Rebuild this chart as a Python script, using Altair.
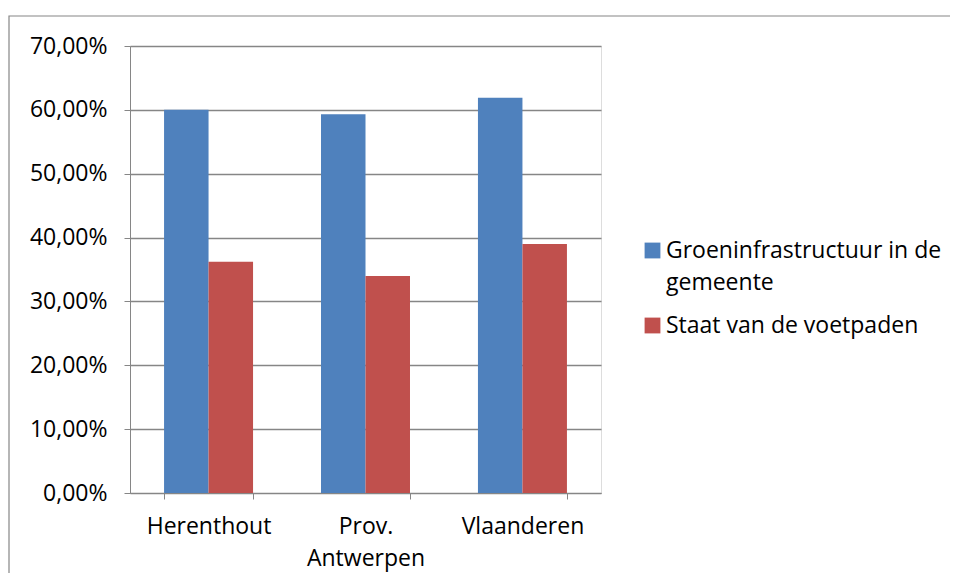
import altair as alt
import pandas as pd

categories = ["Herenthout", "Prov. Antwerpen", "Vlaanderen"]
series = ["Groeninfrastructuur in de gemeente", "Staat van de voetpaden"]
groen = [0.600, 0.593, 0.619]
voetpaden = [0.362, 0.340, 0.390]
y_ticks = [0, 0.1, 0.2, 0.3, 0.4, 0.5, 0.6, 0.7]
colors = ["#4F81BD", "#C0504D"]

rows = []
for c, g, v in zip(categories, groen, voetpaden):
    rows.append({"cat": c, "series": series[0], "value": g})
    rows.append({"cat": c, "series": series[1], "value": v})
df = pd.DataFrame(rows)

FONT = "Open Sans"
FS = 23

bars = alt.Chart(df).mark_bar().encode(
    x=alt.X("cat:N", sort=categories,
            scale=alt.Scale(paddingInner=0.433, paddingOuter=0.217),
            axis=alt.Axis(title=None, labelAngle=0, tickBand="extent",
                          labelExpr="datum.label == 'Prov. Antwerpen' ? ['Prov.', 'Antwerpen'] : datum.label",
                          labelLineHeight=32, labelPadding=16, tickSize=6,
                          domainColor="#868686", tickColor="#868686",
                          labelFont=FONT, labelFontSize=FS, labelColor="#000000")),
    xOffset=alt.XOffset("series:N", sort=series),
    y=alt.Y("value:Q", scale=alt.Scale(domain=[0, 0.7]),
            axis=alt.Axis(title=None, values=y_ticks, grid=True,
                          labelExpr="replace(format(datum.value, '.2%'), '.', ',')",
                          gridColor="#868686", gridWidth=1.3, domainColor="#868686",
                          tickColor="#868686", tickSize=6, labelPadding=17,
                          labelFont=FONT, labelFontSize=FS, labelColor="#000000")),
    color=alt.Color("series:N", scale=alt.Scale(domain=series, range=colors),
                    legend=alt.Legend(title=None, orient="none", legendX=511, legendY=193,
                                      symbolType="square", symbolSize=250, symbolStrokeWidth=0,
                                      labelExpr="datum.label == 'Groeninfrastructuur in de gemeente' ? ['Groeninfrastructuur in de', 'gemeente'] : datum.label",
                                      labelFont=FONT, labelFontSize=FS, labelColor="#000000",
                                      rowPadding=19, labelOffset=2, labelLimit=400)),
)

border = alt.Chart(pd.DataFrame({"a": [0]})).mark_rect(
    fill=None, stroke="#868686", strokeWidth=1.2
).encode(x=alt.value(-121), x2=alt.value(860), y=alt.value(-30), y2=alt.value(580))

chart = alt.layer(border, bars).properties(
    width=471, height=447,
    autosize=alt.AutoSizeParams(type="none"),
    padding={"left": 122, "top": 38, "right": 349, "bottom": 80},
).configure_view(stroke=None).configure(style={"guide-label": {"lineHeight": 32}})

chart.save("out.html", embed_options={"renderer": "svg", "actions": False})
